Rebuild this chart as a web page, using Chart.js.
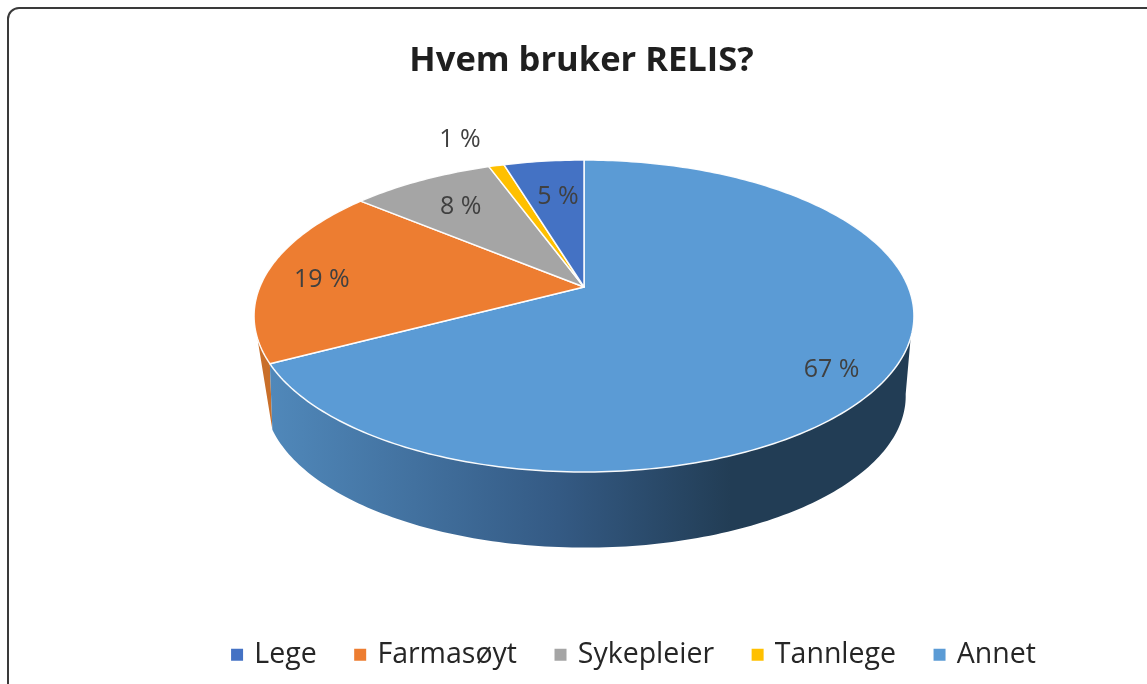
<!DOCTYPE html>
<html>
<head>
<meta charset="utf-8">
<title>Hvem bruker RELIS?</title>
<script src="https://cdn.jsdelivr.net/npm/chart.js@4"></script>
<style>
    html, body { margin: 0; background: #fff; overflow: hidden; }
    #wrap { position: relative; width: 1147px; height: 684px; overflow: hidden; }
    #frame { position: absolute; left: 7px; top: 7px; width: 1300px; height: 900px; border: 2px solid #3a3a3a; border-radius: 12px; }
    canvas { position: absolute; left: 0; top: 0; }
</style>
</head>
<body>
<div id="wrap">
    <div id="frame"></div>
    <canvas id="pie-chart" width="1147" height="684"></canvas>
</div>
<script>
// clockwise from 12 o'clock, as in the picture
const categories = ['Annet', 'Farmasøyt', 'Sykepleier', 'Tannlege', 'Lege'];
const shares = [67.3, 18.7, 8.4, 0.9, 4.7];
const colors = ['#5B9BD5', '#ED7D31', '#A5A5A5', '#FFC000', '#4472C4'];
const legend_order = ['Lege', 'Farmasøyt', 'Sykepleier', 'Tannlege', 'Annet'];
// where each percent label sits: distance from the apex (1 = on the rim), turn from mid-slice in degrees
const label_radius = [0.85, 0.82, 0.74, 1.3, 0.7];
const label_turn = [4.1, -1.7, 0.4, -2.6, 1];

// the tilted disc: perspective seen from the front, the apex sits above the ellipse centre
const APEX_Y = 287;
const DISC_A = 324.2;
const DISC_B = 150.6;
const TILT = 0.1859;
const WALL_DROP = 80;
const WALL_SCALE = 0.972;
const ELLIPSE_Y = 316;
const deg = Math.PI / 180;

function project(x0, angle, r = 1) {
    const x = Math.cos(angle) * r;
    const y = Math.sin(angle) * r;
    const w = 1 - TILT * y;
    return { x: x0 + DISC_A * x / w, y: APEX_Y + DISC_B * y / w };
}

function project_bottom(x0, angle) {
    const p = project(x0, angle);
    return {
        x: x0 + 1 + (p.x - x0) * WALL_SCALE,
        y: ELLIPSE_Y + (p.y - ELLIPSE_Y) * WALL_SCALE + WALL_DROP
    };
}

function trace_rim(ctx, point, from, to) {
    const steps = Math.max(2, Math.ceil(Math.abs(to - from) / deg));
    for (let i = 0; i <= steps; i++) {
        const p = point(from + (to - from) * i / steps);
        ctx.lineTo(p.x, p.y);
    }
}

function draw_walls(ctx, arcs) {
    const x0 = arcs[0].x;
    const top = a => project(x0, a);
    const bottom = a => project_bottom(x0, a);
    // angles are canvas angles, -90 deg = 12 o'clock
    const seen_from = 18.6 * deg;
    const seen_to = 161.4 * deg;
    const bottom_from = 10 * deg;
    const bottom_edge = arcs[0].endAngle + 4.6 * deg;

    const wall_fill = ctx.createLinearGradient(270, 0, 910, 0);
    wall_fill.addColorStop(0, '#5088BA');
    wall_fill.addColorStop(0.45, '#345A84');
    wall_fill.addColorStop(0.72, '#223D55');
    wall_fill.addColorStop(1, '#223D55');

    // orange sliver first, blue front wall over it
    ctx.beginPath();
    trace_rim(ctx, top, arcs[0].endAngle, seen_to);
    const tip = bottom(bottom_edge);
    ctx.lineTo(tip.x, tip.y);
    ctx.closePath();
    ctx.fillStyle = '#C96F2A';
    ctx.fill();

    ctx.beginPath();
    trace_rim(ctx, top, seen_from, arcs[0].endAngle);
    trace_rim(ctx, bottom, bottom_edge, bottom_from);
    ctx.closePath();
    ctx.fillStyle = wall_fill;
    ctx.fill();
}

const tilted_pie = {
    id: 'tilted_pie',
    afterLayout(chart) {
        // legend in the picture sits right of the centre and a bit higher
        chart.legend.left += 51;
        chart.legend.right += 51;
        chart.legend.top -= 5;
        chart.legend.bottom -= 5;
        chart.titleBlock.left -= 2.5;
        chart.titleBlock.right -= 2.5;
    },
    beforeDatasetsDraw(chart) {
        const ctx = chart.ctx;
        const arcs = chart.getDatasetMeta(0).data;
        const x0 = arcs[0].x;
        ctx.save();
        draw_walls(ctx, arcs);
        arcs.forEach((arc, i) => {
            ctx.beginPath();
            ctx.moveTo(x0, APEX_Y);
            trace_rim(ctx, a => project(x0, a), arc.startAngle, arc.endAngle);
            ctx.closePath();
            ctx.fillStyle = colors[i];
            ctx.fill();
            ctx.lineWidth = 1.5;
            ctx.lineJoin = 'round';
            ctx.strokeStyle = 'rgba(255,255,255,0.95)';
            ctx.stroke();
        });
        ctx.font = '25px "Open Sans"';
        ctx.fillStyle = '#404040';
        ctx.textAlign = 'center';
        ctx.textBaseline = 'middle';
        arcs.forEach((arc, i) => {
            const mid = (arc.startAngle + arc.endAngle) / 2 + label_turn[i] * deg;
            const p = project(x0, mid, label_radius[i]);
            ctx.fillText(Math.round(shares[i]) + ' %', p.x, p.y + 2);
        });
        ctx.restore();
        return false;
    }
};

new Chart(document.getElementById('pie-chart'), {
    type: 'pie',
    data: {
        labels: categories,
        // the slices are painted by the plugin, the border only thickens the legend squares
        datasets: [{ data: shares, backgroundColor: colors, borderColor: colors, borderWidth: 6 }]
    },
    plugins: [tilted_pie],
    options: {
        responsive: false,
        animation: false,
        layout: { padding: { left: 21 } },
        plugins: {
            tooltip: { enabled: false },
            title: {
                display: true,
                text: 'Hvem bruker RELIS?',
                color: '#1f1f1f',
                font: { family: '"Open Sans"', size: 34.5, weight: 'bold' },
                padding: { top: 40, bottom: 10 }
            },
            legend: {
                position: 'bottom',
                labels: {
                    boxWidth: 6,
                    boxHeight: 6,
                    padding: 40.5,
                    color: '#262626',
                    font: { family: '"Open Sans"', size: 28.5 },
                    sort: (a, b) => legend_order.indexOf(a.text) - legend_order.indexOf(b.text)
                }
            }
        }
    }
});
</script>
</body>
</html>
